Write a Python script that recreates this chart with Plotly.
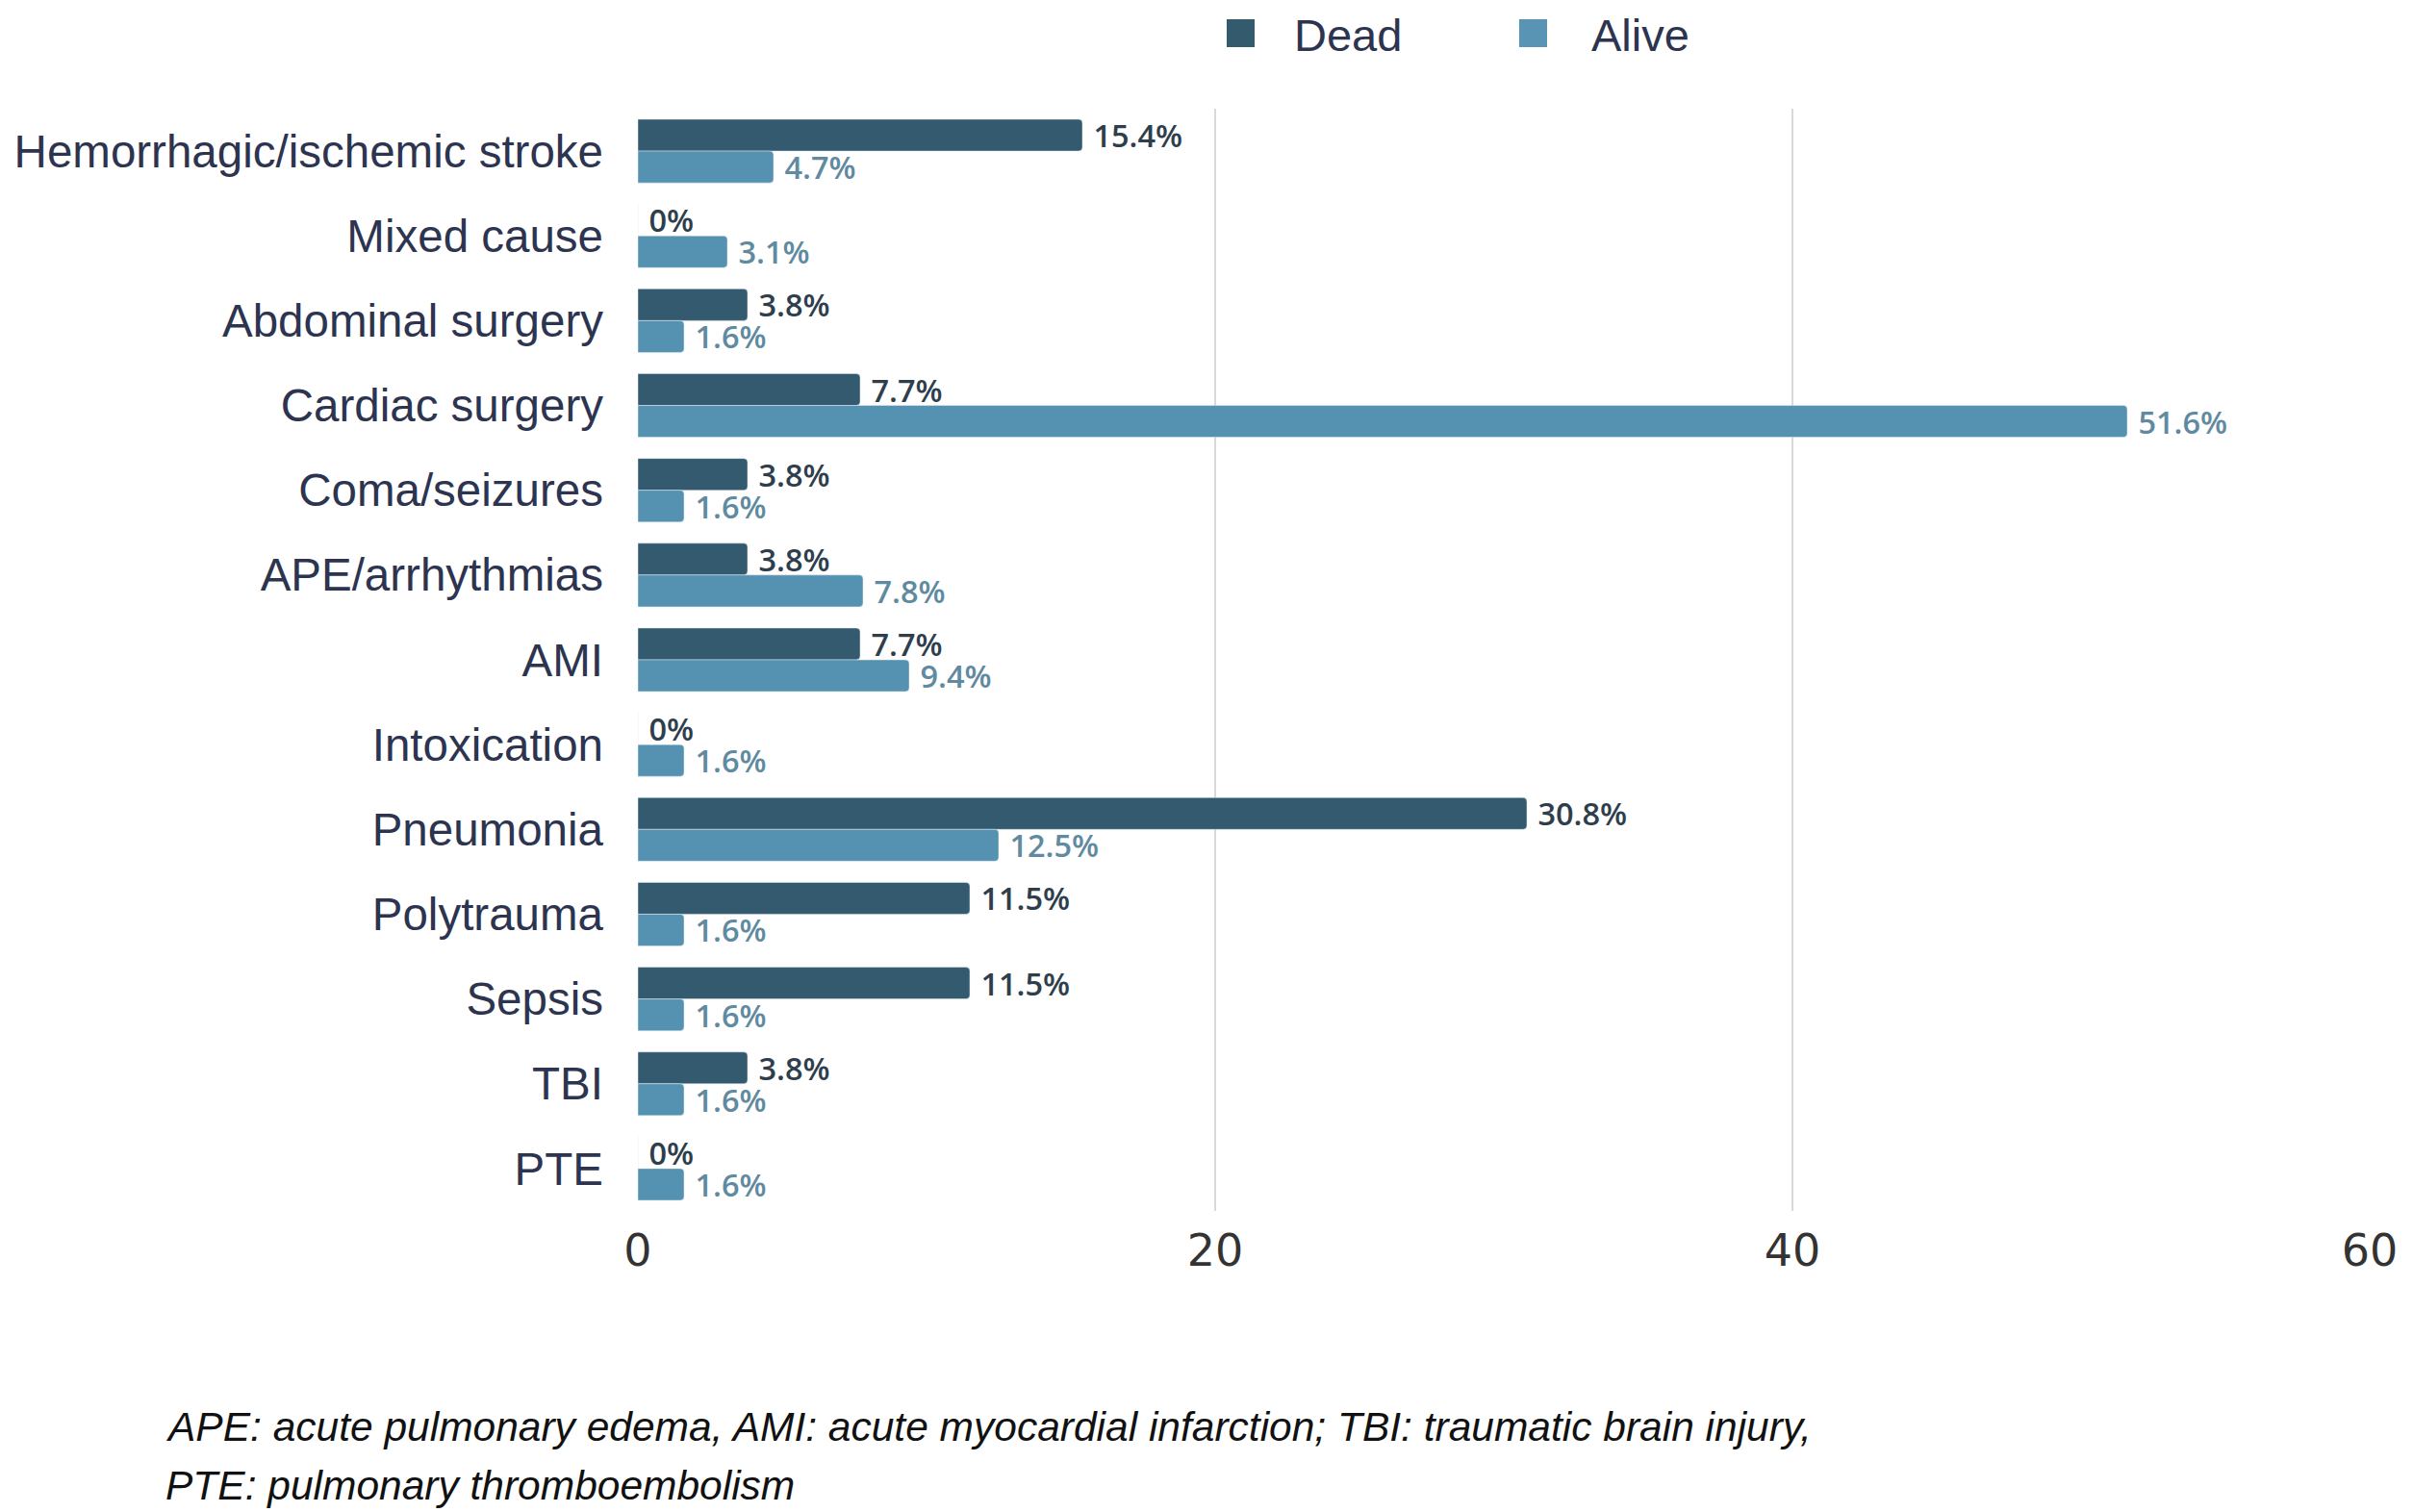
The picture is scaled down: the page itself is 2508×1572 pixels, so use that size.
import plotly.graph_objects as go

categories = ["Hemorrhagic/ischemic stroke", "Mixed cause", "Abdominal surgery", "Cardiac surgery",
              "Coma/seizures", "APE/arrhythmias", "AMI", "Intoxication", "Pneumonia",
              "Polytrauma", "Sepsis", "TBI", "PTE"]
dead = [15.4, 0, 3.8, 7.7, 3.8, 3.8, 7.7, 0, 30.8, 11.5, 11.5, 3.8, 0]
alive = [4.7, 3.1, 1.6, 51.6, 1.6, 7.8, 9.4, 1.6, 12.5, 1.6, 1.6, 1.6, 1.6]
x_ticks = [0, 20, 40, 60]
series_names = ["Dead", "Alive"]
footnote = ["APE: acute pulmonary edema, AMI: acute myocardial infarction; TBI: traumatic brain injury,",
            "PTE: pulmonary thromboembolism"]

DEAD_C = "#335a6e"
ALIVE_C = "#5591b0"
W, H = 2508, 1572
L, R, T, B = 655, 53, 105, 321
plot_h = H - T - B
plot_w = W - L - R

def lab(v):
    return "\u00a0" + ("%g" % v) + "%"

fig = go.Figure()
fig.add_trace(go.Bar(
    name=series_names[0], y=categories, x=dead, orientation="h", marker_color=DEAD_C,
    text=[lab(v) for v in dead], textposition="outside", constraintext="none",
    cliponaxis=False, showlegend=False,
    textfont=dict(family="Open Sans", size=32.5, color="#2e3e4c", weight=600),
))
fig.add_trace(go.Bar(
    name=series_names[1], y=categories, x=alive, orientation="h", marker_color=ALIVE_C,
    text=[lab(v) for v in alive], textposition="outside", constraintext="none",
    cliponaxis=False, showlegend=False,
    textfont=dict(family="Open Sans", size=32.5, color="#5f8aa0", weight=600),
))

fig.update_layout(
    width=W, height=H,
    margin=dict(l=L, r=R, t=T, b=B, autoexpand=False),
    paper_bgcolor="white", plot_bgcolor="white",
    barmode="group", bargap=0.25, bargroupgap=0.0, barcornerradius=4,
    font=dict(family="Liberation Sans", color="#2d3450"),
    showlegend=False,
    xaxis=dict(range=[0, 60], tickvals=x_ticks, showgrid=True, gridcolor="#d9d9d9", gridwidth=2,
               zeroline=False, showline=False, ticks="", ticklabelstandoff=10,
               tickfont=dict(family="DejaVu Sans", size=46, color="#333333")),
    yaxis=dict(autorange="reversed", showgrid=False, zeroline=False, showline=False, ticks="",
               ticklabelstandoff=35,
               tickfont=dict(family="Liberation Sans", size=47.5, color="#2d3450")),
)

def px_x(p):
    return (p - L) / plot_w

def px_y(p):
    return 1 - (p - T) / plot_h

legend_items = [(series_names[0], "#345a6e", 1267, 1336), (series_names[1], "#5a94b4", 1571, 1645)]
for name, col, sx, tx in legend_items:
    fig.add_shape(type="rect", xref="paper", yref="paper",
                  x0=px_x(sx), x1=px_x(sx + 29), y0=px_y(12), y1=px_y(41),
                  fillcolor=col, line=dict(width=0))
    fig.add_annotation(text=name, xref="paper", yref="paper", x=px_x(tx), xanchor="left",
                       y=px_y(1), yanchor="top", showarrow=False, borderpad=0,
                       font=dict(family="Liberation Sans", size=47, color="#2d3450"))

for i, line in enumerate(footnote):
    fig.add_annotation(
        text=line, xref="paper", yref="paper",
        x=px_x(162), xanchor="left",
        y=px_y(1475 + 61 * i), yanchor="middle",
        showarrow=False,
        font=dict(family="Liberation Sans", size=42.5, color="#111111", style="italic"),
    )

fig.write_html("out.html")
